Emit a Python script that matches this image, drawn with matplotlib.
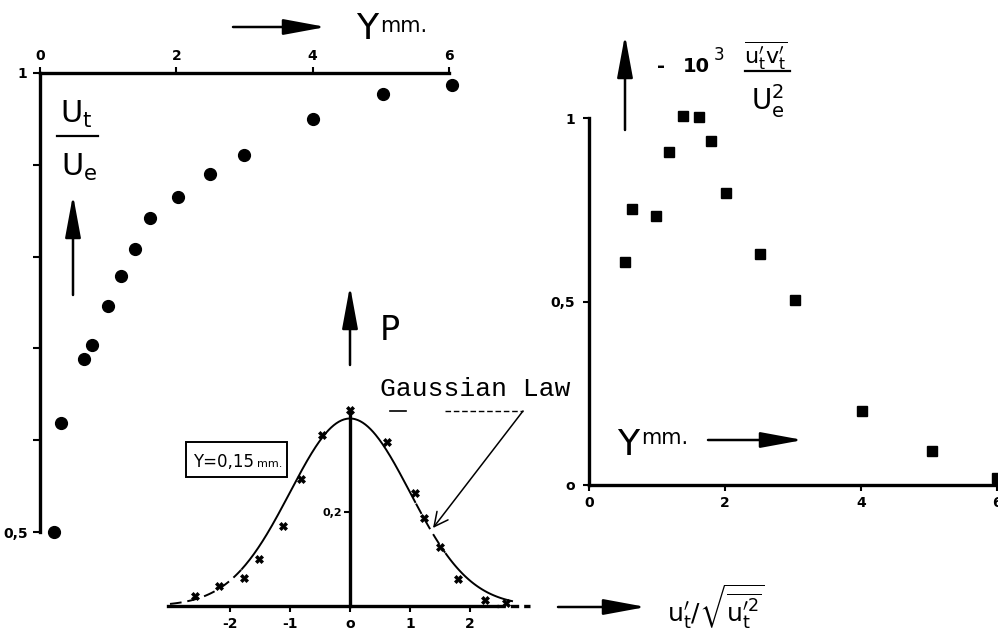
import numpy as np
import matplotlib
matplotlib.use("Agg")
import matplotlib.pyplot as plt
from matplotlib.patches import FancyArrowPatch, Rectangle

# mean velocity profile U_t/U_e against y (mm)
y_mm_u = [0.21, 0.31, 0.65, 0.76, 1.0, 1.19, 1.39, 1.62, 2.03, 2.5, 3.0, 4.0, 5.03, 6.04]
ut_ue = [0.500, 0.619, 0.688, 0.704, 0.746, 0.779, 0.808, 0.842, 0.865, 0.890, 0.911, 0.950, 0.977, 0.987]
u_xticks = [0, 2, 4, 6]
u_yticks = [0.5, 0.6, 0.7, 0.8, 0.9, 1.0]
u_yticklabels = ["0,5", "", "", "", "", "1"]

# Reynolds shear stress -10^3 u'v'/Ue^2 against y (mm)
y_mm_uv = [0.53, 0.63, 0.99, 1.18, 1.38, 1.62, 1.79, 2.01, 2.51, 3.03, 4.01, 5.04, 6.0]
uv_stress = [0.608, 0.752, 0.733, 0.907, 1.005, 1.003, 0.937, 0.796, 0.629, 0.504, 0.202, 0.093, 0.02]
uv_xticks = [0, 2, 4, 6]
uv_yticks = [0, 0.5, 1.0]
uv_yticklabels = ["o", "0,5", "1"]

# probability density of u'/sqrt(u'^2) at y = 0.15 mm
u_norm = [-2.58, -2.18, -1.77, -1.52, -1.11, -0.81, -0.46, 0.0, 0.61, 1.09, 1.23, 1.50, 1.80, 2.25, 2.60]
p_meas = [0.021, 0.043, 0.060, 0.100, 0.170, 0.270, 0.364, 0.417, 0.349, 0.240, 0.187, 0.126, 0.057, 0.013, 0.006]
p_xticks = [-2, -1, 0, 1, 2]
p_xticklabels = ["-2", "-1", "o", "1", "2"]

W, H = 998, 634


def rect(x0, y0, x1, y1):
    # pixel box, origin top-left -> figure fraction
    return [x0 / W, 1 - y1 / H, (x1 - x0) / W, (y1 - y0) / H]


def bold_ticks(ax):
    for lbl in ax.get_xticklabels() + ax.get_yticklabels():
        lbl.set_fontweight("bold")


fig = plt.figure(figsize=(W / 100, H / 100), dpi=100)

# ---- left: U_t/U_e ----
ax1 = fig.add_axes(rect(40, 73, 449, 532))
ax1.plot(y_mm_u, ut_ue, "o", color="k", ms=8.5, clip_on=False)
ax1.set_xlim(0, 6)
ax1.set_ylim(0.5, 1)
ax1.spines["bottom"].set_visible(False)
ax1.spines["right"].set_visible(False)
ax1.spines["top"].set_linewidth(2.4)
ax1.spines["left"].set_linewidth(2.4)
ax1.xaxis.tick_top()
ax1.set_xticks(u_xticks)
ax1.set_xticklabels([str(t) for t in u_xticks])
ax1.set_yticks(u_yticks)
ax1.set_yticklabels(u_yticklabels)
ax1.tick_params(axis="x", length=4, width=1.5, labelsize=10, pad=3)
ax1.tick_params(axis="y", length=5, width=1.5, labelsize=10, pad=4)
ax1.patch.set_visible(False)
bold_ticks(ax1)

# ---- right: shear stress ----
ax2 = fig.add_axes(rect(589, 118, 997, 485))
ax2.plot(y_mm_uv, uv_stress, "s", color="k", ms=7, clip_on=False)
ax2.set_xlim(0, 6)
ax2.set_ylim(0, 1)
ax2.spines["top"].set_visible(False)
ax2.spines["right"].set_visible(False)
ax2.spines["bottom"].set_linewidth(2.4)
ax2.spines["left"].set_linewidth(2.4)
ax2.set_xticks(uv_xticks)
ax2.set_xticklabels([str(t) for t in uv_xticks])
ax2.set_yticks(uv_yticks)
ax2.set_yticklabels(uv_yticklabels)
ax2.tick_params(axis="x", length=4, width=1.5, labelsize=10, pad=4)
ax2.tick_params(axis="y", length=4, width=1.5, labelsize=10, pad=6)
ax2.patch.set_visible(False)
bold_ticks(ax2)

# ---- middle: probability density ----
ax3 = fig.add_axes(rect(167, 394.5, 542, 606))
ax3.set_xlim(-3.05, 3.2)
ax3.set_ylim(0, 0.45)
ax3.spines["top"].set_visible(False)
ax3.spines["right"].set_visible(False)
ax3.spines["left"].set_position(("data", 0))
ax3.spines["left"].set_bounds(0, max(p_meas))
ax3.spines["left"].set_linewidth(2.4)
ax3.spines["bottom"].set_bounds(-3.03, 2.45)
ax3.spines["bottom"].set_linewidth(2.4)
ax3.plot([2.45, 3.0], [0, 0], color="k", lw=2.4, ls=(0, (2.5, 1.5)), clip_on=False)

# Gaussian law (standard normal density)
xg = np.linspace(-3.0, 2.7, 400)
pg = np.exp(-xg ** 2 / 2) / np.sqrt(2 * np.pi)
segs = [(-3.0, -1.8, "--"), (-1.8, 1.1, "-"), (1.1, 1.6, "--"), (1.6, 2.7, "-")]
for a, b, ls in segs:
    m = (xg >= a) & (xg <= b)
    ax3.plot(xg[m], pg[m], color="k", lw=1.4, ls=ls if ls == "-" else (0, (6, 3)))
ax3.plot(u_norm, p_meas, "X", color="k", ms=5.5, mew=0.5, clip_on=False)
ax3.set_xticks(p_xticks)
ax3.set_xticklabels(p_xticklabels)
ax3.set_yticks([0.2])
ax3.set_yticklabels(["0,2"])
ax3.tick_params(axis="x", length=4, width=1.5, labelsize=10, pad=4)
ax3.tick_params(axis="y", length=4, width=1.5, labelsize=8, pad=2)
ax3.patch.set_visible(False)
bold_ticks(ax3)

# ---- annotations in pixel space ----
ov = fig.add_axes([0, 0, 1, 1])
ov.set_xlim(0, W)
ov.set_ylim(H, 0)
ov.axis("off")
ov.patch.set_visible(False)


def arrow(p0, p1, lw=1.8):
    ov.add_patch(FancyArrowPatch(p0, p1, arrowstyle="-|>,head_length=1.3,head_width=0.24",
                                 mutation_scale=20, lw=lw, color="k",
                                 shrinkA=0, shrinkB=0))


arrow((233, 27), (326, 27))
arrow((73, 295), (73, 195))
arrow((350, 365), (350, 286))
arrow((625, 130), (625, 35))
arrow((708, 440), (803, 440))
arrow((558, 607), (646, 607))

# top y label
ov.text(356, 39, "Y", fontsize=26, va="baseline")
ov.text(380, 32, "mm.", fontsize=15, va="baseline")
# right y label
ov.text(617, 455, "Y", fontsize=26, va="baseline")
ov.text(641, 444, "mm.", fontsize=15, va="baseline")

# U_t / U_e
ov.text(60, 123, r"$\mathrm{U_t}$", fontsize=22, va="baseline")
ov.plot([57, 98], [136, 136], color="k", lw=1.6)
ov.text(61, 176, r"$\mathrm{U_e}$", fontsize=22, va="baseline")

# -10^3 u'v' / Ue^2
ov.text(657, 72, "-", fontsize=14, fontweight="bold", va="baseline")
ov.text(683, 72, "10", fontsize=14, fontweight="bold", va="baseline")
ov.text(714, 60, "3", fontsize=12, va="baseline")
ov.text(744, 64, r"$\overline{\mathrm{u_t^{\prime}v_t^{\prime}}}$", fontsize=16, va="baseline")
ov.plot([745, 790], [71, 71], color="k", lw=1.6)
ov.text(751, 110, r"$\mathrm{U_e^2}$", fontsize=20, va="baseline")

# P and abscissa label
ov.text(380, 340, "P", fontsize=24, va="baseline")
ov.text(667, 622, r"$\mathrm{u_t^{\prime}}/\sqrt{\overline{\mathrm{u_t^{\prime 2}}}}$",
        fontsize=18, va="baseline")

# station box
ov.add_patch(Rectangle((186, 442), 101, 35, fill=False, lw=1.4, color="k"))
ov.text(193, 467, "Y=0,15", fontsize=12, va="baseline")
ov.text(257, 467, "mm.", fontsize=8, va="baseline")

# Gaussian law callout
ov.text(380, 396, "Gaussian Law", family="Liberation Mono", fontsize=19, va="baseline")
ov.plot([390, 406], [411, 411], color="k", lw=1.2)
ov.plot([445, 523], [411, 411], color="k", lw=1.0, ls=(0, (4, 2)))
ov.add_patch(FancyArrowPatch((523, 411), (433, 528), arrowstyle="->,head_length=0.5,head_width=0.25",
                             mutation_scale=20, lw=1.1, color="k", shrinkA=0, shrinkB=0))

fig.savefig("out.png", dpi=100)
